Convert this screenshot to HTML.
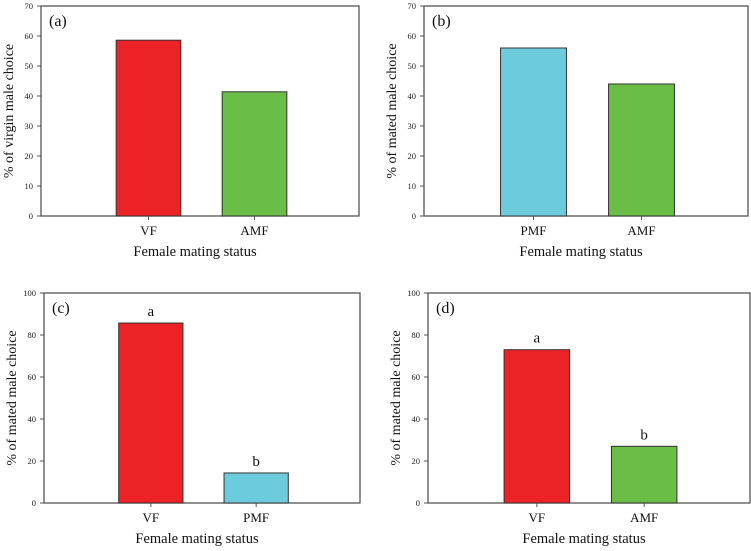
<!DOCTYPE html>
<html><head><meta charset="utf-8"><style>
html,body{margin:0;padding:0;background:#fff;}
svg{display:block;font-family:"Liberation Serif",serif;}
</style></head><body>
<svg id="fig" width="751" height="551" viewBox="0 0 751 551"></svg>
<script>
const panelLabels = ["(a)", "(b)", "(c)", "(d)"];
const panelCategories = [["VF","AMF"], ["PMF","AMF"], ["VF","PMF"], ["VF","AMF"]];
const panelValues = [[58.6, 41.4], [56, 44], [85.7, 14.3], [73, 27]];
const panelColors = [["#ec2227","#6abd45"], ["#6ccbdc","#6abd45"], ["#ec2227","#6ccbdc"], ["#ec2227","#6abd45"]];
const panelLetters = [null, null, ["a","b"], ["a","b"]];
const panelYMax = [70, 70, 100, 100];
const panelYStep = [10, 10, 20, 20];
const panelYTitles = ["% of virgin male choice", "% of  mated male choice", "% of  mated male choice", "% of  mated male choice"];
const xAxisTitle = "Female mating status";

const NS = "http://www.w3.org/2000/svg";
const svg = document.getElementById("fig");
const boxes = [
  {l:41,r:359,t:6,b:216,name:"panel-a"},
  {l:424,r:748,t:6,b:216,name:"panel-b"},
  {l:44,r:360,t:293,b:503,name:"panel-c"},
  {l:428,r:750,t:293,b:503,name:"panel-d"}
];
function mk(tag, attrs, parent){
  const e = document.createElementNS(NS, tag);
  for (const k in attrs) e.setAttribute(k, attrs[k]);
  (parent||svg).appendChild(e);
  return e;
}
boxes.forEach((bx, p) => {
  const g = mk("g", {});
  
  
  const ymax = panelYMax[p];
  const y = v => bx.b - (v / ymax) * (bx.b - bx.t);
  const unit = (bx.r - bx.l) / 3;
  const x = i => bx.l + unit * (i + 1) + 1.5;
  const bw = unit * 0.61;
  const fr = mk("rect", {x:bx.l, y:bx.t, width:bx.r-bx.l, height:bx.b-bx.t, fill:"none", stroke:"#555", "stroke-width":1.3}, g);
  
  
  for (let v = 0; v <= ymax; v += panelYStep[p]) {
    const tk = mk("line", {x1:bx.l-4, x2:bx.l, y1:y(v), y2:y(v), stroke:"#555", "stroke-width":1}, g);
    
    
    const tl = mk("text", {x:bx.l-8, y:y(v)+3, "text-anchor":"end", "font-size":8.5, fill:"#222"}, g);
    tl.textContent = v;
    
    
  }
  panelValues[p].forEach((val, i) => {
    const cx = x(i);
    const br = mk("rect", {x:cx-bw/2, y:y(val), width:bw, height:bx.b-y(val), fill:panelColors[p][i], stroke:"#333", "stroke-width":1}, g);
    
    
    const tk = mk("line", {x1:cx, x2:cx, y1:bx.b, y2:bx.b+4, stroke:"#555"}, g);
    
    
    const cl = mk("text", {x:cx, y:bx.b+19, "text-anchor":"middle", "font-size":13, fill:"#111"}, g);
    cl.textContent = panelCategories[p][i];
    
    
    if (panelLetters[p]) {
      const lt = mk("text", {x:cx, y:y(val)-7, "text-anchor":"middle", "font-size":15, fill:"#111"}, g);
      lt.textContent = panelLetters[p][i];
      
      
    }
  });
  const pl = mk("text", {x:bx.l+8, y:bx.t+20, "font-size":16, fill:"#111"}, g);
  pl.textContent = panelLabels[p];
  
  
  const xt = mk("text", {x:(bx.l+bx.r)/2 - 5, y:bx.b+40, "text-anchor":"middle", "font-size":14.5, fill:"#111"}, g);
  xt.textContent = xAxisTitle;
  
  
  const yx = bx.l - 28, yc = (bx.t + bx.b) / 2;
  const yt = mk("text", {x:yx, y:yc, "text-anchor":"middle", "font-size":14, fill:"#111", transform:`rotate(-90 ${yx} ${yc})`}, g);
  yt.textContent = panelYTitles[p];
  
  
});
</script>
</body></html>
